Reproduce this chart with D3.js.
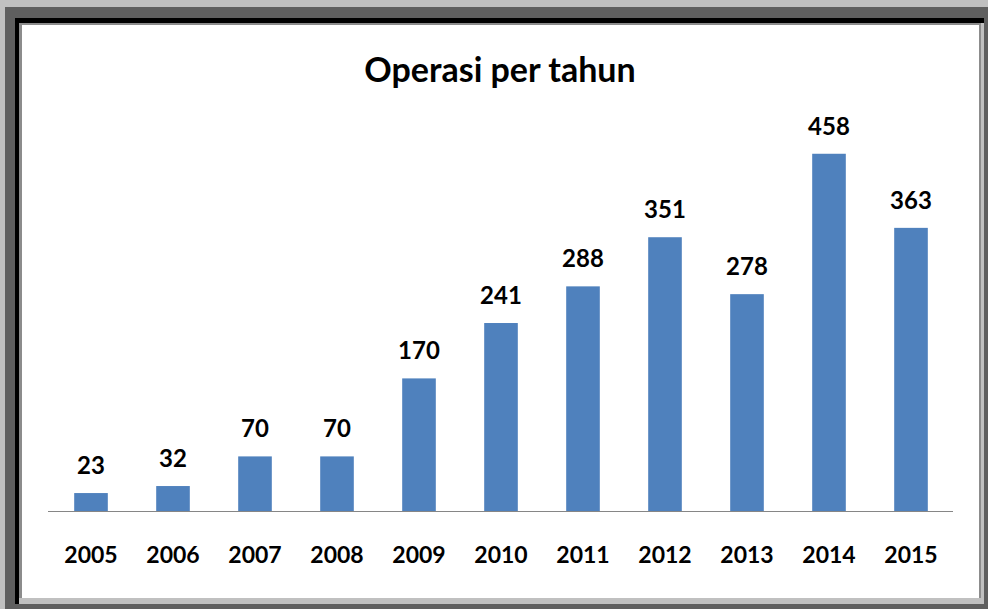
<!DOCTYPE html>
<html>
<head>
<meta charset="utf-8">
<script src="https://cdn.jsdelivr.net/npm/d3@7"></script>
<style>
  body { margin: 0; }
  svg { display: block; }
</style>
</head>
<body>
<div id="chart"></div>
<script>
// data
var years = ["2005", "2006", "2007", "2008", "2009", "2010", "2011", "2012", "2013", "2014", "2015"];
var operasi = [23, 32, 70, 70, 170, 241, 288, 351, 278, 458, 363];
var title = "Operasi per tahun";

var svgWidth = 988;
var svgHeight = 609;
var fontFam = "Lato, 'Open Sans', sans-serif";

var svg = d3.select("#chart")
  .append("svg")
  .attr("width", svgWidth)
  .attr("height", svgHeight);

// frame (looks like a screenshot with a dark border)
svg.append("rect").attr("width", svgWidth).attr("height", svgHeight).attr("fill", "#5f5f5f");
svg.append("rect").attr("x", 0).attr("y", 0).attr("width", svgWidth).attr("height", 7).attr("fill", "#c0c0c0");
svg.append("rect").attr("x", 0).attr("y", 0).attr("width", 5).attr("height", svgHeight).attr("fill", "#c0c0c0");
svg.append("rect").attr("x", 15).attr("y", 18).attr("width", 969).attr("height", 586).attr("fill", "#000");
svg.append("rect").attr("x", 19).attr("y", 23).attr("width", 965).attr("height", 581).attr("fill", "#c0c0c0");
svg.append("rect").attr("x", 19).attr("y", 23).attr("width", 962).attr("height", 575).attr("fill", "#8c8c8c");
svg.append("rect").attr("x", 22).attr("y", 25).attr("width", 957).attr("height", 573).attr("fill", "#fff");

var x = d3.scaleBand()
  .domain(years)
  .range([50, 952])
  .paddingInner(0.59)
  .paddingOuter(0.295);

var y = d3.scaleLinear()
  .domain([0, 500])
  .range([511, 121]);

// title
svg.append("text")
  .attr("x", 500)
  .attr("y", 82)
  .attr("text-anchor", "middle")
  .attr("font-family", fontFam)
  .attr("font-weight", "bold")
  .attr("font-size", 34)
  .attr("fill", "#000")
  .text(title);

// bars
svg.selectAll(".bar")
  .data(operasi)
  .enter().append("rect")
  .attr("class", "bar")
  .attr("x", (d, i) => x(years[i]))
  .attr("y", d => y(d))
  .attr("width", x.bandwidth())
  .attr("height", d => y(0) - y(d))
  .attr("fill", "#4f81bd");

// value labels
svg.selectAll(".val")
  .data(operasi)
  .enter().append("text")
  .attr("class", "val")
  .attr("x", (d, i) => x(years[i]) + x.bandwidth() / 2)
  .attr("y", d => y(d) - 19)
  .attr("text-anchor", "middle")
  .attr("font-family", fontFam)
  .attr("font-weight", "bold")
  .attr("font-size", 24)
  .attr("fill", "#000")
  .text(d => d);

// x axis
var xAxis = d3.axisBottom(x).tickSize(0).tickPadding(0);
var gx = svg.append("g")
  .attr("transform", `translate(0,${y(0)})`)
  .call(xAxis);
gx.select(".domain").attr("stroke", "#868686").attr("d", "M48,0.5H953");
gx.selectAll("text")
  .attr("y", 52)
  .attr("dy", null)
  .attr("font-family", fontFam)
  .attr("font-weight", "bold")
  .attr("font-size", 23)
  .attr("fill", "#000");
</script>
</body>
</html>
